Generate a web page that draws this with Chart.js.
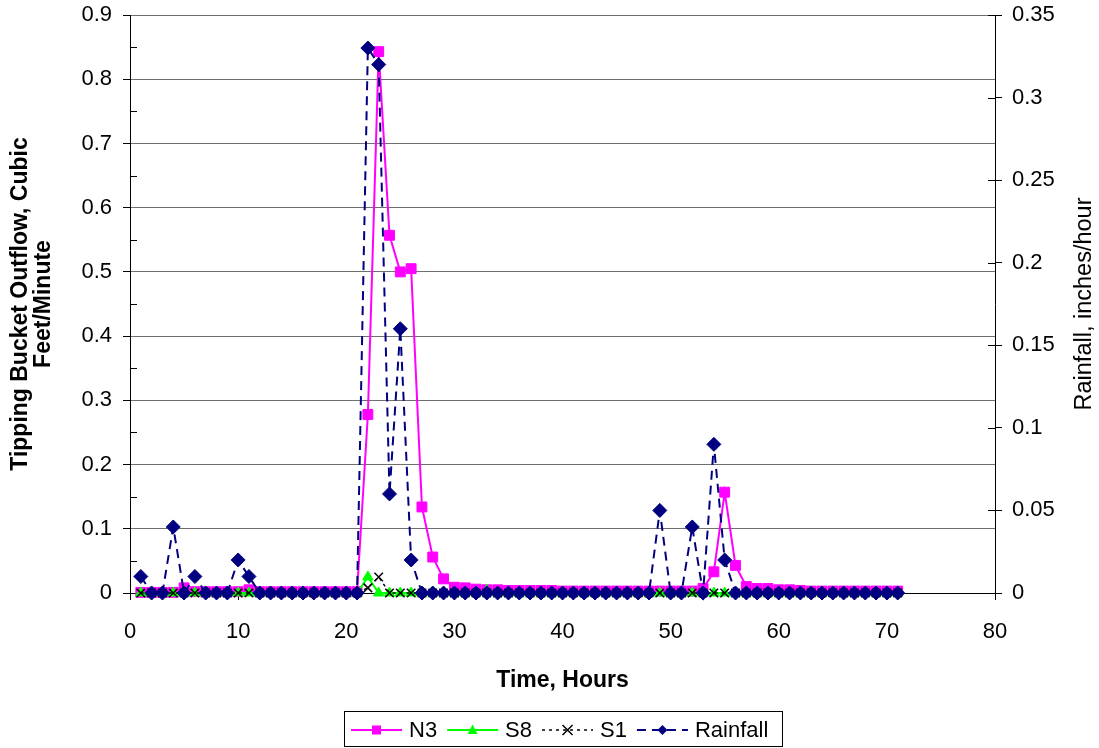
<!DOCTYPE html>
<html>
<head>
<meta charset="utf-8">
<script src="https://cdn.jsdelivr.net/npm/chart.js@4/dist/chart.umd.min.js"></script>
<style>
  html, body { margin: 0; padding: 0; background: #fff; }
  canvas { display: block; }
</style>
</head>
<body>
<canvas id="outflowChart" width="1099" height="748"></canvas>
<script>
// hourly readings
const hours = [1, 2, 3, 4, 5, 6, 7, 8, 9, 10, 11, 12, 13, 14, 15, 16, 17, 18, 19, 20,
  21, 22, 23, 24, 25, 26, 27, 28, 29, 30, 31, 32, 33, 34, 35, 36, 37, 38, 39, 40,
  41, 42, 43, 44, 45, 46, 47, 48, 49, 50, 51, 52, 53, 54, 55, 56, 57, 58, 59, 60,
  61, 62, 63, 64, 65, 66, 67, 68, 69, 70, 71];

// tipping bucket outflow, cubic feet/minute
const n3 = [0.001, 0.001, 0.001, 0.001, 0.008, 0.002, 0.002, 0.002, 0.002, 0.002,
  0.005, 0.002, 0.002, 0.002, 0.002, 0.002, 0.002, 0.002, 0.002, 0.002,
  0.002, 0.278, 0.843, 0.557, 0.500, 0.505, 0.134, 0.056, 0.022, 0.009,
  0.008, 0.006, 0.005, 0.005, 0.004, 0.004, 0.004, 0.004, 0.004, 0.003,
  0.003, 0.003, 0.003, 0.003, 0.003, 0.003, 0.003, 0.003, 0.003, 0.003,
  0.003, 0.003, 0.007, 0.033, 0.157, 0.043, 0.010, 0.007, 0.007, 0.005,
  0.005, 0.004, 0.003, 0.003, 0.003, 0.003, 0.003, 0.003, 0.003, 0.003, 0.003];
const s8 = [0, 0, 0, 0, 0, 0, 0, 0, 0, 0, 0, 0, 0, 0, 0, 0, 0, 0, 0, 0,
  0, 0.025, 0, 0, 0, 0, 0, 0, 0, 0, 0, 0, 0.004, 0, 0, 0, 0, 0, 0, 0,
  0, 0, 0, 0, 0, 0, 0, 0, 0, 0, 0, 0, 0, 0, 0, 0, 0, 0, 0, 0,
  0, 0, 0, 0, 0, 0, 0, 0, 0, 0, 0];
const s1 = [0, 0, 0, 0, 0, 0, 0, 0, 0, 0, 0, 0, 0, 0, 0, 0, 0, 0, 0, 0,
  0, 0.008, 0.025, 0, 0, 0, 0, 0, 0, 0, 0, 0, 0, 0, 0, 0, 0, 0, 0, 0,
  0, 0, 0, 0, 0, 0, 0, 0, 0, 0, 0, 0, 0, 0, 0, 0, 0, 0, 0, 0,
  0, 0, 0, 0, 0, 0, 0, 0, 0, 0, 0];

// rainfall, inches/hour
const rainfall = [0.01, 0, 0, 0.04, 0, 0.01, 0, 0, 0, 0.02, 0.01, 0, 0, 0, 0, 0, 0, 0, 0, 0,
  0, 0.33, 0.32, 0.06, 0.16, 0.02, 0, 0, 0, 0, 0, 0, 0, 0, 0, 0, 0, 0, 0, 0,
  0, 0, 0, 0, 0, 0, 0, 0, 0.05, 0, 0, 0.04, 0, 0.09, 0.02, 0, 0, 0, 0, 0,
  0, 0, 0, 0, 0, 0, 0, 0, 0, 0, 0];

const FONT = '"Liberation Sans", Arial, sans-serif';
const pts = arr => hours.map((h, i) => ({ x: h, y: arr[i] }));

// legend entries drawn in this order
const legendOrder = ['N3', 'S8', 'S1', 'Rainfall'];

function marker(ctx, style, x, y, r, color) {
    ctx.save();
    ctx.fillStyle = color;
    ctx.strokeStyle = color;
    ctx.lineWidth = 1.5;
    ctx.setLineDash([]);
    ctx.beginPath();
    if (style === 'rect') {
        ctx.rect(x - r, y - r, 2 * r, 2 * r);
        ctx.fill();
    } else if (style === 'triangle') {
        ctx.moveTo(x, y - r * 1.1);
        ctx.lineTo(x + r, y + r * 0.8);
        ctx.lineTo(x - r, y + r * 0.8);
        ctx.closePath();
        ctx.fill();
    } else if (style === 'crossRot') {
        ctx.moveTo(x - r, y - r); ctx.lineTo(x + r, y + r);
        ctx.moveTo(x + r, y - r); ctx.lineTo(x - r, y + r);
        ctx.stroke();
    } else {
        ctx.moveTo(x, y - r); ctx.lineTo(x + r, y);
        ctx.lineTo(x, y + r); ctx.lineTo(x - r, y);
        ctx.closePath();
        ctx.fill();
    }
    ctx.restore();
}

// y scales: fixed width, no extra room for the top label
const fixWidth = w => s => {
    s.width = w;
    s.paddingTop = 0;
    s.paddingBottom = 0;
};

// minor ticks, rotated right-hand title and boxed legend
const extras = {
    id: 'extras',
    afterDraw(chart) {
        const { ctx, chartArea: a, scales } = chart;
        ctx.save();
        ctx.strokeStyle = '#000';
        ctx.lineWidth = 1;
        ctx.beginPath();
        for (let v = 0.05; v < 0.9; v += 0.1) {
            const y = Math.round(scales.y.getPixelForValue(v)) + 0.5;
            ctx.moveTo(a.left, y); ctx.lineTo(a.left + 7, y);
        }
        for (let v = 0; v <= 0.35001; v += 0.05) {
            const y = Math.round(scales.y2.getPixelForValue(v)) + 0.5;
            ctx.moveTo(a.right - 7, y); ctx.lineTo(a.right, y);
        }
        ctx.stroke();

        ctx.translate(1085, (a.top + a.bottom) / 2);
        ctx.rotate(-Math.PI / 2);
        ctx.fillStyle = '#000';
        ctx.font = '23.5px ' + FONT;
        ctx.textAlign = 'center';
        ctx.textBaseline = 'middle';
        ctx.fillText('Rainfall, inches/hour', 0, 0);
        ctx.restore();

        // legend box
        ctx.save();
        ctx.strokeStyle = '#000';
        ctx.lineWidth = 1;
        ctx.strokeRect(344.5, 711.5, 438, 35);
        ctx.font = '22px ' + FONT;
        ctx.textBaseline = 'middle';
        ctx.fillStyle = '#000';
        const ly = 730;
        let x = 351;
        legendOrder.forEach(name => {
            const ds = chart.data.datasets.find(d => d.label === name);
            ctx.save();
            ctx.strokeStyle = ds.borderColor;
            ctx.lineWidth = ds.borderWidth;
            ctx.setLineDash(ds.borderDash || []);
            ctx.beginPath();
            ctx.moveTo(x, ly); ctx.lineTo(x + 51, ly);
            ctx.stroke();
            ctx.restore();
            marker(ctx, ds.pointStyle, x + 25.5, ly, ds.pointStyle === 'rect' ? 4.5 : 5, ds.borderColor);
            const tx = x + 58;
            ctx.fillText(name, tx, ly + 1);
            x = tx + ctx.measureText(name).width + 10;
        });
        ctx.restore();
    }
};

const ctx = document.getElementById('outflowChart').getContext('2d');
const chart = new Chart(ctx, {
    type: 'line',
    data: {
        datasets: [
            {
                label: 'Rainfall',
                data: pts(rainfall),
                yAxisID: 'y2',
                order: 0,
                borderColor: '#000080',
                backgroundColor: '#000080',
                borderWidth: 2,
                borderDash: [9, 6],
                pointStyle: 'rectRot',
                pointRadius: 7,
                pointBorderWidth: 1,
                clip: false
            },
            {
                label: 'S1',
                data: pts(s1),
                yAxisID: 'y',
                order: 1,
                borderColor: '#000000',
                backgroundColor: '#000000',
                borderWidth: 1.5,
                borderDash: [3, 4],
                pointStyle: 'crossRot',
                pointRadius: 6,
                pointBorderWidth: 1.5,
                clip: false
            },
            {
                label: 'S8',
                data: pts(s8),
                yAxisID: 'y',
                order: 2,
                borderColor: '#00FF00',
                backgroundColor: '#00FF00',
                borderWidth: 2,
                pointStyle: 'triangle',
                pointRadius: 6,
                pointBorderWidth: 1,
                clip: false
            },
            {
                label: 'N3',
                data: pts(n3),
                yAxisID: 'y',
                order: 3,
                borderColor: '#FF00FF',
                backgroundColor: '#FF00FF',
                borderWidth: 2,
                pointStyle: 'rect',
                pointRadius: 7,
                pointBorderWidth: 1,
                clip: false
            }
        ]
    },
    options: {
        responsive: false,
        animation: false,
        devicePixelRatio: 1,
        layout: { padding: { top: 15, left: 0, right: 0, bottom: 0 } },
        plugins: {
            legend: { display: false },
            tooltip: { enabled: false }
        },
        elements: { line: { tension: 0 } },
        scales: {
            x: {
                type: 'linear',
                min: 0,
                max: 80,
                afterFit: s => { s.height = 155; },
                ticks: {
                    stepSize: 10,
                    padding: 19,
                    color: '#000',
                    font: { family: FONT, size: 22 }
                },
                grid: { drawOnChartArea: false, tickLength: 7, color: '#000' },
                border: { color: '#000', width: 1 },
                title: {
                    display: true,
                    text: 'Time, Hours',
                    color: '#000',
                    font: { family: FONT, size: 23, weight: 'bold' },
                    padding: { top: 0, bottom: 54 }
                }
            },
            y: {
                position: 'left',
                min: 0,
                max: 0.9,
                afterFit: fixWidth(130),
                ticks: {
                    stepSize: 0.1,
                    padding: 11,
                    color: '#000',
                    font: { family: FONT, size: 22 },
                    callback: v => +v.toFixed(2)
                },
                grid: {
                    tickLength: 7,
                    tickColor: '#000',
                    color: c => c.tick && c.tick.value === 0 ? 'rgba(0,0,0,0)' : '#6f6f6f',
                    lineWidth: 1
                },
                border: { color: '#000', width: 1 },
                title: {
                    display: true,
                    text: ['Tipping Bucket Outflow, Cubic', 'Feet/Minute'],
                    color: '#000',
                    font: { family: FONT, size: 23, weight: 'bold', lineHeight: '23px' },
                    padding: { top: 9, bottom: 0 }
                }
            },
            y2: {
                position: 'right',
                min: 0,
                max: 0.35,
                afterFit: fixWidth(104),
                ticks: {
                    stepSize: 0.05,
                    padding: 10,
                    color: '#000',
                    font: { family: FONT, size: 22 },
                    callback: v => +v.toFixed(2)
                },
                grid: { drawOnChartArea: false, tickLength: 7, color: '#000' },
                border: { color: '#000', width: 1 }
            }
        }
    },
    plugins: [extras]
});
</script>
</body>
</html>
